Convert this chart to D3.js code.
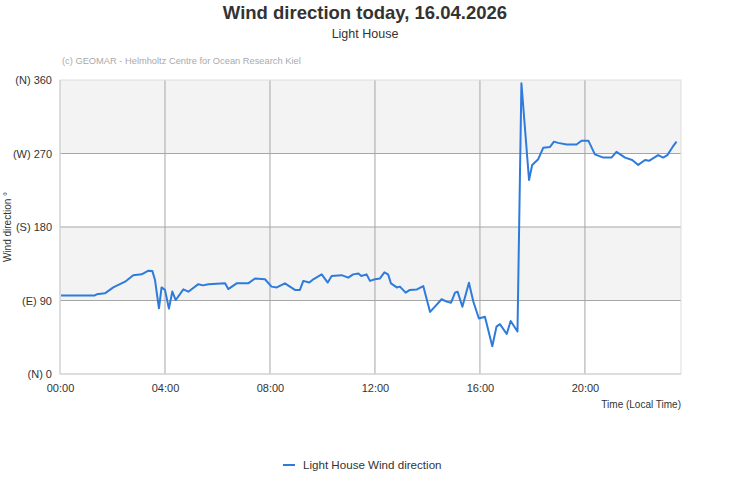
<!DOCTYPE html><html><head><meta charset="utf-8"><script src="https://cdn.jsdelivr.net/npm/d3@7"></script>
<style>body{margin:0;background:#fff}svg{font-family:"Liberation Sans",Arial,sans-serif}</style></head><body><svg id="c" width="731" height="500"></svg><script>
const hours=[0.04,1.31,1.4,1.71,2.03,2.48,2.79,3.11,3.37,3.52,3.62,3.77,3.87,4.0,4.15,4.28,4.41,4.7,4.89,5.27,5.45,5.65,6.29,6.41,6.73,7.17,7.43,7.81,8.06,8.26,8.57,8.95,9.14,9.27,9.5,9.65,9.97,10.2,10.35,10.73,10.98,11.17,11.37,11.48,11.68,11.81,12.0,12.19,12.36,12.5,12.61,12.83,12.95,13.17,13.33,13.6,13.84,14.1,14.54,14.73,14.9,15.05,15.15,15.33,15.58,15.75,15.96,16.19,16.47,16.63,16.76,17.02,17.17,17.43,17.58,17.87,17.99,18.22,18.41,18.67,18.82,18.98,19.3,19.68,19.87,20.13,20.38,20.7,21.01,21.2,21.53,21.8,22.03,22.29,22.44,22.79,22.98,23.14,23.34,23.49];
const direction=[96,96,97.6,98.8,106,113,121,122,126.5,126,115,80.4,106,103,80,101,90.6,103.7,100.8,110,108.5,110,111,104,111,111,117,116,107,106,111,103,103,114,112,116,122,112,120,121,118,122,123,120,122,114,116,117,124.5,122,111,106,107,99.6,103,103.5,107.7,76,91.5,88.6,87.3,99.6,100.8,82.4,111.8,88.5,68,70,34,58,61,49,65,52,356,237.5,256,263,277,278,284.5,283,281,281,285.7,285.7,269,265,265,272,265,262,256,262,261,268,265,268,278,284.5];
const yTicks=[0,90,180,270,360];
const yLabels=["(N) 0","(E) 90","(S) 180","(W) 270","(N) 360"];
const xTicks=[0,4,8,12,16,20];
const svg=d3.select("#c");
const L=60,R=681,T=80,B=374;
const x=d3.scaleLinear().domain([0,23.66]).range([L,R]);
const y=d3.scaleLinear().domain([0,360]).range([B,T]);
[[270,360],[90,180]].forEach(b=>svg.append("rect").attr("x",L).attr("width",R-L).attr("y",y(b[1])).attr("height",y(b[0])-y(b[1])).attr("fill","#f3f3f3"));
yTicks.slice(1,4).forEach(t=>svg.append("line").attr("x1",L).attr("x2",R).attr("y1",y(t)).attr("y2",y(t)).attr("stroke","#a6a6a6"));
xTicks.slice(1).forEach(t=>svg.append("line").attr("x1",x(t)).attr("x2",x(t)).attr("y1",T).attr("y2",B).attr("stroke","#a6a6a6"));
svg.append("rect").attr("x",L).attr("y",T).attr("width",R-L).attr("height",B-T).attr("fill","none").attr("stroke","#ddd");
svg.append("line").attr("x1",L).attr("x2",L).attr("y1",T).attr("y2",B).attr("stroke","#ccc");
svg.append("line").attr("x1",L).attr("x2",R).attr("y1",B).attr("y2",B).attr("stroke","#ccc");
const ya=svg.append("g").attr("transform",`translate(${L},0)`).call(d3.axisLeft(y).tickValues(yTicks).tickFormat((d,i)=>yLabels[i]).tickSize(0).tickPadding(8));
ya.select(".domain").remove();
const xa=svg.append("g").attr("transform",`translate(0,${B})`).call(d3.axisBottom(x).tickValues(xTicks).tickFormat(d=>String(d).padStart(2,"0")+":00").tickSize(0).tickPadding(10));
xa.select(".domain").remove();
svg.selectAll(".tick text").attr("font-size",11).attr("fill","#333").attr("font-family","Liberation Sans,Arial,sans-serif");
svg.append("path").datum(hours.map((h,i)=>[h,direction[i]])).attr("d",d3.line().x(d=>x(d[0])).y(d=>y(d[1]))).attr("fill","none").attr("stroke","#2e7bdb").attr("stroke-width",2).attr("stroke-linejoin","round");
svg.append("text").attr("x",365).attr("y",19).attr("text-anchor","middle").attr("font-size",18.5).attr("font-weight","bold").attr("fill","#333").text("Wind direction today, 16.04.2026");
svg.append("text").attr("x",365).attr("y",38).attr("text-anchor","middle").attr("font-size",12.5).attr("fill","#333").text("Light House");
svg.append("text").attr("x",62).attr("y",64).attr("font-size",9.3).attr("fill","#aaa").text("(c) GEOMAR - Helmholtz Centre for Ocean Research Kiel");
svg.append("text").attr("transform","translate(11,227) rotate(-90)").attr("text-anchor","middle").attr("font-size",10).attr("fill","#333").text("Wind direction °");
svg.append("text").attr("x",681).attr("y",408).attr("text-anchor","end").attr("font-size",10).attr("fill","#333").text("Time (Local Time)");
svg.append("line").attr("x1",283).attr("x2",295).attr("y1",465).attr("y2",465).attr("stroke","#2e7bdb").attr("stroke-width",2);
svg.append("text").attr("x",303).attr("y",469).attr("font-size",11.6).attr("fill","#333").text("Light House Wind direction");
</script></body></html>
